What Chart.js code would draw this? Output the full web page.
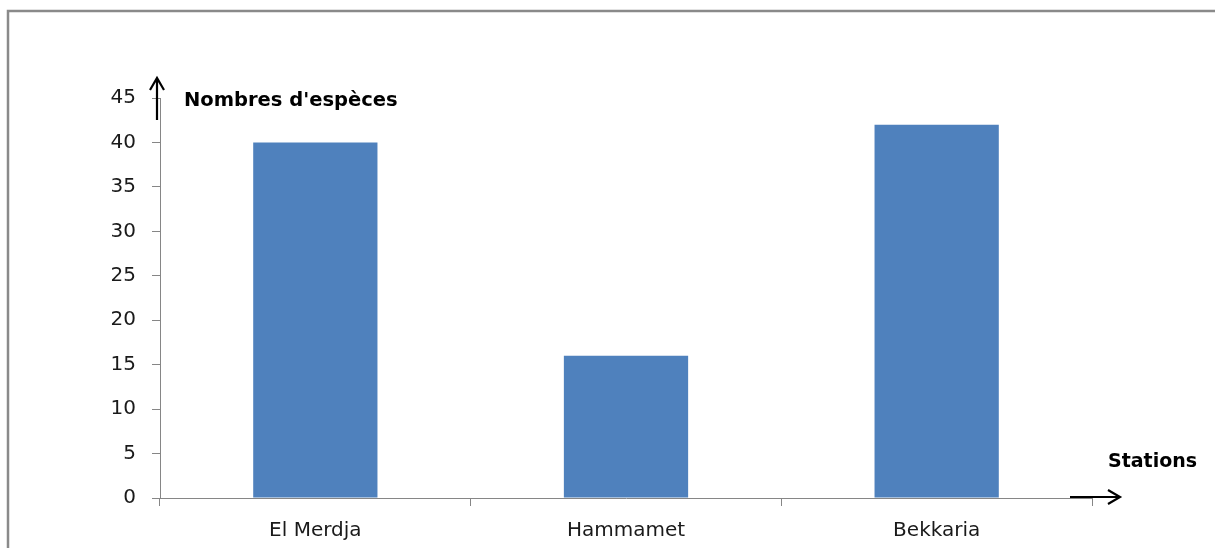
<!DOCTYPE html>
<html>
<head>
<meta charset="utf-8">
<script src="https://cdn.jsdelivr.net/npm/chart.js@4/dist/chart.umd.min.js"></script>
<style>
  html, body { margin: 0; padding: 0; background: #fff; }
  #wrap { width: 1215px; height: 548px; position: relative; }
</style>
</head>
<body>
<div id="wrap"><canvas id="chart" width="1215" height="548"></canvas></div>
<script>
const stations = ['El Merdja', 'Hammamet', 'Bekkaria'];
const nbEspeces = [40, 16, 42];
const yTicks = [0, 5, 10, 15, 20, 25, 30, 35, 40, 45];
const titreY = "Nombres d'espèces";
const titreX = 'Stations';

const axisGray = '#868686';
const barBlue = '#4F81BD';

// cadre, flèches et titres des axes
const decor = {
    id: 'decor',
    afterDraw(chart) {
        const c = chart.ctx;
        const a = chart.chartArea;
        c.save();
        // cadre gris de la zone du graphique
        c.strokeStyle = '#8a8a8a';
        c.lineWidth = 2.5;
        c.beginPath();
        c.moveTo(chart.width + 5, 11);
        c.lineTo(8, 11);
        c.lineTo(8, chart.height + 5);
        c.stroke();

        // flèche verticale
        c.strokeStyle = '#000';
        c.lineWidth = 2.2;
        const ax = a.left - 3;
        c.beginPath();
        c.moveTo(ax, a.top + 22);
        c.lineTo(ax, a.top - 20);
        c.moveTo(ax - 7, a.top - 8);
        c.lineTo(ax, a.top - 20);
        c.lineTo(ax + 7, a.top - 8);
        c.stroke();

        // flèche horizontale
        const ay = a.bottom - 1;
        c.beginPath();
        c.moveTo(a.right - 22, ay);
        c.lineTo(a.right + 28, ay);
        c.moveTo(a.right + 16, ay - 7);
        c.lineTo(a.right + 28, ay);
        c.lineTo(a.right + 16, ay + 7);
        c.stroke();

        c.fillStyle = '#000';
        c.textBaseline = 'middle';
        c.textAlign = 'left';
        c.font = 'bold 19.5px "DejaVu Sans"';
        c.fillText(titreY, a.left + 24, a.top + 3);
        c.font = 'bold 19px "DejaVu Sans"';
        c.fillText(titreX, a.right + 16, a.bottom - 36);
        c.restore();
    }
};

const ctx = document.getElementById('chart').getContext('2d');
const myChart = new Chart(ctx, {
    type: 'bar',
    data: {
        labels: stations,
        datasets: [{
            label: titreY,
            data: nbEspeces,
            backgroundColor: barBlue,
            borderWidth: 0,
            barPercentage: 0.4,
            categoryPercentage: 1.0
        }]
    },
    options: {
        responsive: false,
        animation: false,
        devicePixelRatio: 1,
        layout: { padding: { top: 98, right: 123, left: 0, bottom: 0 } },
        plugins: {
            legend: { display: false },
            tooltip: { enabled: false }
        },
        scales: {
            x: {
                offset: true,
                grid: {
                    display: true,
                    offset: true,
                    drawOnChartArea: false,
                    drawTicks: true,
                    tickLength: 8,
                    color: axisGray
                },
                border: { display: true, color: axisGray, width: 1 },
                ticks: {
                    color: '#1a1a1a',
                    padding: 13,
                    font: { family: '"DejaVu Sans"', size: 20 }
                },
                afterFit(scale) { scale.height = 50; }
            },
            y: {
                min: 0,
                max: 45,
                afterBuildTicks(scale) {
                    scale.ticks = yTicks.map(v => ({ value: v }));
                },
                grid: {
                    display: true,
                    drawOnChartArea: false,
                    drawTicks: true,
                    tickLength: 8,
                    color: axisGray
                },
                border: { display: true, color: axisGray, width: 1 },
                ticks: {
                    color: '#1a1a1a',
                    padding: 16,
                    font: { family: '"DejaVu Sans"', size: 20 }
                },
                afterFit(scale) { scale.width = 160; }
            }
        }
    },
    plugins: [decor]
});
</script>
</body>
</html>
